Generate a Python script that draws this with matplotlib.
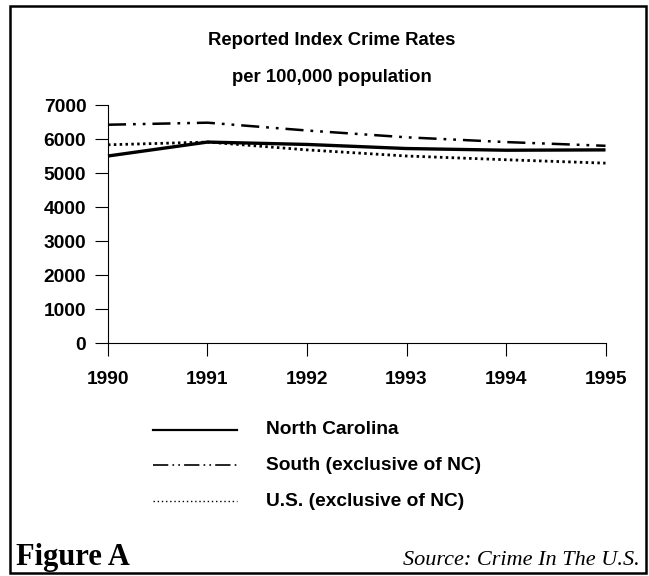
import matplotlib
matplotlib.use("Agg")
import matplotlib.pyplot as plt
from matplotlib.lines import Line2D
from matplotlib.patches import Rectangle

plt.rcParams['lines.scale_dashes'] = False

years = [1990, 1991, 1992, 1993, 1994, 1995]
nc = [5500, 5910, 5840, 5720, 5670, 5680]
south = [6420, 6480, 6250, 6050, 5910, 5800]
us = [5830, 5910, 5680, 5500, 5390, 5290]
series_names = ["North Carolina", "South (exclusive of NC)", "U.S. (exclusive of NC)"]
yticks = [0, 1000, 2000, 3000, 4000, 5000, 6000, 7000]
title1 = "Reported Index Crime Rates"
title2 = "per 100,000 population"

SANS = "Liberation Sans"
SERIF = "Liberation Serif"

fig = plt.figure(figsize=(6.49, 5.76), dpi=100)
ax = fig.add_axes([0.1664, 0.4045, 0.7666, 0.4132])

styles = [
    dict(color="black", lw=2.4, linestyle="-"),
    dict(color="black", lw=1.8, linestyle=(0, (13, 5, 2, 5, 2, 5))),
    dict(color="black", lw=2.0, linestyle=(0, (1.8, 2.4))),
]
for vals, st in zip([nc, south, us], styles):
    ax.plot(years, vals, clip_on=False, solid_capstyle="butt", dash_capstyle="butt", **st)

ax.set_xlim(1990, 1995)
ax.set_ylim(0, 7000)
ax.set_xticks(years)
ax.set_yticks(yticks)
ax.set_xticklabels([str(y) for y in years], fontfamily=SANS, fontweight="bold", fontsize=13.8)
ax.set_yticklabels([str(v) for v in yticks], fontfamily=SANS, fontweight="bold", fontsize=13.8)
ax.tick_params(axis="y", direction="out", length=9.1, width=0.8, pad=6.5)
ax.tick_params(axis="x", direction="out", length=9.4, width=0.8, pad=10.5)
for s in ["top", "right"]:
    ax.spines[s].set_visible(False)
for s in ["left", "bottom"]:
    ax.spines[s].set_linewidth(0.8)

fig.text(0.5116, 1 - 45 / 576, title1, ha="center", va="baseline",
         fontfamily=SANS, fontweight="bold", fontsize=13.3)
fig.text(0.5111, 1 - 81.7 / 576, title2, ha="center", va="baseline",
         fontfamily=SANS, fontweight="bold", fontsize=13.3)

# legend
leg_styles = [
    dict(color="black", lw=1.6, linestyle="-"),
    dict(color="black", lw=1.2, linestyle=(0, (11, 3, 1.2, 3, 1.2, 3))),
    dict(color="black", lw=1.0, linestyle=(0, (1.0, 2.0))),
]
rows_y = [1 - 430 / 576, 1 - 465 / 576, 1 - 501 / 576]
for name, st, yy in zip(series_names, leg_styles, rows_y):
    fig.add_artist(Line2D([153 / 649, 237 / 649], [yy, yy], transform=fig.transFigure, **st))
    fig.text(266.5 / 649, yy, name, ha="left", va="center",
             fontfamily=SANS, fontweight="bold", fontsize=13.8)

fig.text(16.5 / 649, 1 - 565 / 576, "Figure A", ha="left", va="baseline",
         fontfamily=SERIF, fontweight="bold", fontsize=22)
fig.text(639.5 / 649, 1 - 565 / 576, "Source: Crime In The U.S.", ha="right", va="baseline",
         fontfamily=SERIF, fontstyle="italic", fontsize=16)

fig.add_artist(Rectangle((10 / 649, 3 / 576), 636 / 649, 567 / 576, transform=fig.transFigure,
                         fill=False, edgecolor="black", lw=1.8))

fig.savefig("out.png", dpi=100)
